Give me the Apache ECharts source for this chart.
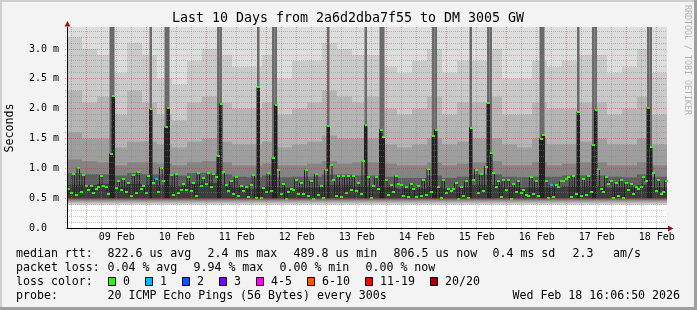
<!DOCTYPE html>
<html><head><meta charset="utf-8">
<script src="https://cdn.jsdelivr.net/npm/echarts@6/dist/echarts.min.js"></script>
<style>html,body{margin:0;padding:0;background:#f3f3f3}#c{width:697px;height:310px}</style>
</head><body><div id="c"></div>
<script>
// ---------- data ----------
const START = Date.UTC(2026, 1, 8, 16, 6, 50);   // Feb 8 16:06:50
const HOURS = 240;                               // 10 days, 1 h steps
const Y_MAX = 3.37;                              // ms
const dayLabels = ['09 Feb','10 Feb','11 Feb','12 Feb','13 Feb','14 Feb','15 Feb','16 Feb','17 Feb','18 Feb'];
const labelDays = [9,10,11,12,13,14,15,16,17,18];
const yTickValues = [0, 0.5, 1.0, 1.5, 2.0, 2.5, 3.0];

// median rtt per hour (ms)
const median = [
0.65,0.58,0.90,0.55,1.01,0.61,0.89,0.70,0.64,0.71,
0.59,0.65,0.69,0.88,0.71,0.68,0.57,1.24,2.21,0.67,
0.78,0.63,0.82,0.60,0.75,0.54,0.89,0.59,0.94,0.65,
0.71,0.59,0.88,1.99,0.76,0.82,0.61,1.01,0.78,1.69,
2.02,0.89,0.56,0.90,0.58,0.63,0.73,0.64,0.86,0.62,
0.75,0.54,0.92,0.71,0.83,0.74,0.92,0.69,0.90,0.85,
1.20,2.08,0.94,0.72,0.62,0.78,0.57,0.85,0.54,0.71,
0.62,0.69,0.52,0.72,0.89,0.51,2.36,0.51,0.67,0.60,
0.92,0.62,1.18,2.06,0.97,0.57,0.74,0.49,0.61,0.65,
0.63,0.81,0.57,0.75,0.57,0.97,0.54,0.79,0.49,0.90,
0.55,0.71,0.51,0.97,1.71,1.06,0.81,0.54,0.88,0.52,
0.88,0.59,0.88,0.64,0.88,0.62,0.75,0.57,1.12,1.72,
0.85,0.51,0.71,0.85,0.65,1.65,1.53,0.81,0.56,0.72,
0.61,0.87,0.74,0.72,0.54,0.68,0.52,0.74,0.65,0.52,
0.71,0.54,0.81,0.55,0.99,0.61,1.54,1.65,0.69,0.51,
0.81,0.59,0.65,0.62,0.65,0.75,0.49,0.69,0.54,0.78,
0.51,1.68,0.81,0.98,0.59,0.90,0.62,1.03,2.09,1.25,
0.92,0.69,0.79,0.52,0.81,0.64,0.81,0.49,0.74,0.61,
0.79,0.59,0.64,0.55,0.54,0.85,0.57,0.78,0.54,1.50,
1.56,0.79,0.51,0.72,0.52,0.72,0.68,0.78,0.79,0.82,
0.85,0.52,0.88,0.57,1.95,0.54,0.82,0.55,0.88,0.61,
1.39,1.98,0.99,0.65,0.61,0.86,0.74,0.78,0.51,0.75,
0.54,0.81,0.51,0.75,0.64,0.73,0.57,0.68,0.65,0.68,
0.86,0.79,2.02,1.36,0.92,0.62,0.81,0.57,0.60,0.79
];
// hours with 1 lost ping (blue)
const lossOneSteps = [35, 193];
// hours where the whole smoke column is high
const spikeSteps = [17,18,33,39,40,60,61,76,82,83,104,119,125,126,146,147,161,168,169,189,190,204,210,211,232,233];

// smoke: 6-hour blocks (40), band tops in ms, outer -> inner
const SMOKE_BLOCK = 6;
const smokeTop1 = [3.4,3.4,3.4,3.4,3.4,3.4,3.4,3.4,3.4,3.4, 3.4,3.4,3.4,3.4,3.4,3.4,3.4,3.4,3.4,3.4, 3.4,3.4,3.4,3.4,3.4,3.4,3.4,3.4,3.4,3.4, 3.4,3.4,3.4,3.4,3.4,3.4,3.4,3.4,3.4,3.4];
const smokeTop2 = [3.2,3.0,2.9,2.6,3.1,2.9,2.5,2.4,2.8,3.0, 2.9,2.7,2.7,2.9,2.5,2.8,2.8,3.1,3.0,2.9, 2.9,2.7,2.6,2.8,3.0,2.6,2.8,2.8,3.0,2.5, 2.5,2.8,2.7,2.8,2.9,2.9,2.6,2.7,3.0,2.6];
const smokeTop3 = [2.3,2.1,2.2,1.9,2.3,2.1,1.9,1.8,2.1,2.2, 2.1,2.0,2.0,2.1,1.9,2.0,2.1,2.3,2.2,2.1, 2.2,2.0,1.9,2.0,2.2,1.9,2.1,2.1,2.2,1.9, 1.9,2.1,2.0,2.0,2.1,2.1,1.9,2.0,2.2,1.9];
const smokeTop4 = [1.6,1.5,1.5,1.35,1.45,1.45,1.4,1.35,1.45,1.5, 1.45,1.4,1.4,1.45,1.35,1.4,1.45,1.55,1.5,1.5, 1.5,1.4,1.35,1.4,1.5,1.4,1.45,1.5,1.5,1.4, 1.35,1.5,1.4,1.4,1.45,1.5,1.4,1.4,1.5,1.4];
const smokeTop5 = [1.15,1.12,1.1,1.05,1.1,1.1,1.08,1.05,1.1,1.12, 1.1,1.05,1.05,1.08,1.05,1.05,1.08,1.12,1.08,1.1, 1.1,1.08,1.05,1.05,1.1,1.05,1.08,1.1,1.12,1.05, 1.05,1.1,1.05,1.08,1.1,1.1,1.05,1.05,1.1,1.05];
const smokeTop6 = [0.92,0.9,0.9,0.88,0.92,0.9,0.9,0.88,0.92,0.92, 0.9,0.86,0.85,0.88,0.85,0.86,0.86,0.9,0.9,0.88, 0.88,0.86,0.84,0.84,0.88,0.84,0.86,0.9,0.9,0.86, 0.85,0.86,0.86,0.88,0.88,0.88,0.86,0.85,0.9,0.86];
const smokeTop7 = [0.72,0.72,0.74,0.7,0.74,0.72,0.72,0.7,0.74,0.75, 0.72,0.68,0.66,0.7,0.68,0.68,0.68,0.72,0.72,0.7, 0.7,0.68,0.66,0.66,0.7,0.66,0.68,0.72,0.72,0.68, 0.68,0.68,0.68,0.7,0.7,0.7,0.68,0.68,0.72,0.68];
const smokeLow = [0.38, 0.40, 0.42, 0.44, 0.46, 0.48, 0.50];

const lossLabels = ['0','1','2','3','4-5','6-10','11-19','20/20'];
const legendRow1 = ['822.6 us avg','2.4 ms max','489.8 us min','806.5 us now','0.4 ms sd','2.3','am/s'];
const legendRow2 = ['0.04 % avg','9.94 % max','0.00 % min','0.00 % now'];

// ---------- styles ----------
const bandColors = ['#dddddd','#cacaca','#b5b5b5','#9e9e9e','#848484','#5e5e5e','#3c3c3c'];
const lossColors = ['#26ff00','#00b8ff','#0059ff','#7e00ff','#ff00ff','#ff5500','#ff0000','#a10000'];
const FONT = '"DejaVu Sans Mono", monospace';
const RED = 'rgba(220,30,30,0.42)';
const GRAY = 'rgba(128,128,128,0.45)';
const ARROW = '#a31515';

const hourOf = t => (t - START) / 3600000;
const smokeTops = [smokeTop1, smokeTop2, smokeTop3, smokeTop4, smokeTop5, smokeTop6, smokeTop7];
const smokeData = [];
smokeTops.forEach((tops, k) => tops.forEach((top, j) =>
  smokeData.push([j * SMOKE_BLOCK, (j + 1) * SMOKE_BLOCK, smokeLow[k], top, k])));
const lineData = median.map((v, i) => [i, v]);
lineData.push([HOURS, median[median.length - 1]]);
const dashData = median.map((v, i) => [i, v, lossOneSteps.includes(i) ? 1 : 0]);
const spikeData = spikeSteps.map(s => [s, median[s]]);

function txt(x, y, text, opt) {
  opt = opt || {};
  return {type:'text', x:x, y:y, rotation: opt.rot || 0, z: 10,
    style:{text:text, font:(opt.size || 11.6) + 'px ' + FONT, fill: opt.color || '#000',
      align: opt.align || 'left', textAlign: opt.align || 'left',
      verticalAlign:'middle', textVerticalAlign:'middle'}};
}

const graphics = [
  {type:'rect', shape:{x:0,y:0,width:697,height:2}, style:{fill:'#cfcfcf'}},
  {type:'rect', shape:{x:0,y:0,width:2,height:310}, style:{fill:'#cfcfcf'}},
  {type:'rect', shape:{x:0,y:307,width:697,height:3}, style:{fill:'#9e9e9e'}},
  {type:'rect', shape:{x:694,y:0,width:3,height:310}, style:{fill:'#9e9e9e'}},
  txt(348, 19, 'Last 10 Days from 2a6d2dba7f55 to DM 3005 GW', {size:13.3, align:'center'}),
  txt(10, 128, 'Seconds', {rot: Math.PI/2, align:'center'}),
  txt(687, 5, 'RRDTOOL / TOBI OETIKER', {rot: -Math.PI/2, size:8.3, color:'#b4b4b4'}),
  txt(16, 254, 'median rtt:'),
  txt(16, 268, 'packet loss:'),
  txt(16, 282, 'loss color:'),
  txt(16, 296, 'probe:'),
  txt(107.5, 296, '20 ICMP Echo Pings (56 Bytes) every 300s'),
  txt(680, 296, 'Wed Feb 18 16:06:50 2026', {align:'right'})
];
const row1X = [107.5, 207.5, 293.5, 393.5, 492.5, 572.5, 613];
legendRow1.forEach((s, i) => graphics.push(txt(row1X[i], 254, s)));
legendRow2.forEach((s, i) => graphics.push(txt(107.5 + 86 * i, 268, s)));
let bx = 108;
lossLabels.forEach((s, i) => {
  graphics.push({type:'rect', z:10, shape:{x:bx + 0.5, y:277.5, width:7, height:8},
    style:{fill:lossColors[i], stroke:'#000', lineWidth:1}});
  graphics.push(txt(bx + 15, 282, s));
  bx += 37 + (s.length - 1) * 7;
});

function renderGrid(params, api) {
  const ch = [];
  const xL = api.coord([0, 0])[0], xR = api.coord([HOURS, 0])[0];
  const yB = api.coord([0, 0])[1], yT = api.coord([0, Y_MAX])[1];
  for (let k = 1; k / 10 < Y_MAX; k++) {
    const y = Math.floor(api.coord([0, k / 10])[1]) + 0.5;
    ch.push({type:'line', shape:{x1:xL - 2, y1:y, x2:xR, y2:y},
      style:{stroke: k % 5 === 0 ? RED : GRAY, lineWidth:1, lineDash:[1,1]}});
  }
  for (let d = 8; d <= 18; d++) {
    [0, 6, 12, 18].forEach(hh => {
      const hr = hourOf(Date.UTC(2026, 1, d, hh));
      if (hr <= 0 || hr >= HOURS) return;
      const x = Math.floor(api.coord([hr, 0])[0]) + 0.5;
      ch.push({type:'line', shape:{x1:x, y1:yT, x2:x, y2:yB + 2},
        style:{stroke: hh === 0 ? RED : GRAY, lineWidth:1, lineDash:[1,1]}});
    });
  }
  labelDays.forEach((d, i) => {
    const x = api.coord([hourOf(Date.UTC(2026, 1, d, 12)), 0])[0];
    ch.push({type:'text', x:x, y:yB + 9.5, style:{text:dayLabels[i], font:'10px ' + FONT, fill:'#000',
      align:'center', textAlign:'center', verticalAlign:'middle', textVerticalAlign:'middle'}});
  });
  ch.push({type:'polygon', shape:{points:[[xR + 6.5, yB + 0.5], [xR + 1, yB - 2.5], [xR + 1, yB + 3.5]]}, style:{fill:ARROW}});
  ch.push({type:'line', shape:{x1:xR, y1:yB + 0.5, x2:xR + 2, y2:yB + 0.5}, style:{stroke:'#000', lineWidth:1}});
  ch.push({type:'polygon', shape:{points:[[xL + 0.5, yT - 6], [xL - 2.5, yT - 0.5], [xL + 3.5, yT - 0.5]]}, style:{fill:ARROW}});
  return {type:'group', children:ch};
}

const chart = echarts.init(document.getElementById('c'), null, {width:697, height:310});
chart.setOption({
  animation:false,
  backgroundColor:'#f3f3f3',
  grid:{left:67, top:27, width:600, height:201, show:true, backgroundColor:'#ffffff', borderWidth:0},
  xAxis:{type:'value', min:0, max:HOURS, z:8,
    axisLine:{show:true, onZero:false, lineStyle:{color:'#000', width:1}},
    axisTick:{show:false}, axisLabel:{show:false}, splitLine:{show:false}},
  yAxis:{type:'value', min:0, max:Y_MAX, interval:0.5, z:8,
    axisLine:{show:true, lineStyle:{color:'#000', width:1}},
    axisTick:{show:false}, splitLine:{show:false},
    axisLabel:{showMaxLabel:false, align:'left', margin:38, fontFamily:FONT, fontSize:10, color:'#000',
      formatter: v => yTickValues.includes(v) ? (v === 0 ? '0.0' : v.toFixed(1) + ' m') : ''}},
  graphic: graphics,
  series:[
    {type:'custom', name:'smoke', z:1, clip:true, silent:true, data:smokeData,
      renderItem:(params, api) => {
        const p0 = api.coord([api.value(0), api.value(3)]);
        const p1 = api.coord([api.value(1), api.value(2)]);
        return {type:'rect', shape:{x:p0[0], y:p0[1], width:p1[0] - p0[0], height:p1[1] - p0[1]},
          style:{fill:bandColors[api.value(4)]}};
      }},
    {type:'custom', name:'spikes', z:2, clip:true, silent:true, data:spikeData,
      renderItem:(params, api) => {
        const s = api.value(0), m = api.value(1);
        const a = api.coord([s, Y_MAX + 0.1]), b = api.coord([s + 1, m]), c = api.coord([s + 1, 0.5]);
        return {type:'group', children:[
          {type:'rect', shape:{x:a[0], y:a[1], width:b[0] - a[0], height:b[1] - a[1]}, style:{fill:'#6a6a6a'}},
          {type:'rect', shape:{x:a[0], y:b[1], width:b[0] - a[0], height:c[1] - b[1]}, style:{fill:'#222222'}}
        ]};
      }},
    {type:'line', name:'median', z:3, step:'end', symbol:'none', silent:true, data:lineData,
      lineStyle:{color:'#202020', width:1}},
    {type:'custom', name:'dash', z:4, clip:false, silent:true, data:dashData,
      renderItem:(params, api) => {
        const p = api.coord([api.value(0), api.value(1)]);
        const x0 = Math.round(p[0]);
        return {type:'rect', shape:{x:x0, y:Math.round(p[1]) - 1, width:3, height:2},
          style:{fill: api.value(2) ? lossColors[1] : lossColors[0]}};
      }},
    {type:'custom', name:'grid', z:6, clip:false, silent:true, data:[[0, 0]], renderItem:renderGrid}
  ]
});
</script></body></html>
